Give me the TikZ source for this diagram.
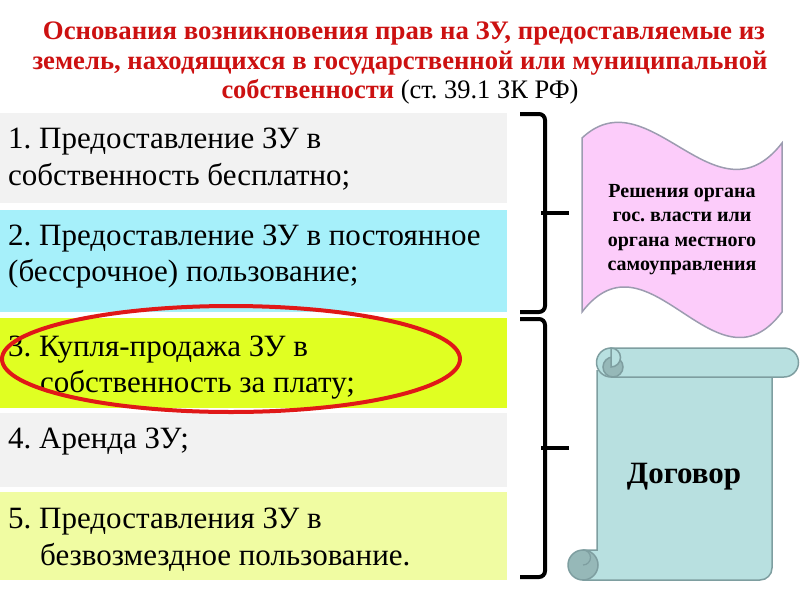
\documentclass[tikz,border=0pt]{standalone}
\usepackage{fontspec}
\setmainfont{Liberation Serif}
\usepackage{graphicx}
\frenchspacing
\definecolor{titlered}{HTML}{CC1111}
\definecolor{ringred}{HTML}{E01818}
\definecolor{boxgray}{HTML}{F2F2F2}
\definecolor{boxcyan}{HTML}{A6F0FA}
\definecolor{boxlime}{HTML}{E0FF22}
\definecolor{boxpale}{HTML}{F0FCA2}
\definecolor{flagpink}{HTML}{FCCCFA}
\definecolor{flagedge}{HTML}{9C9CB0}
\definecolor{scrollfill}{HTML}{B8E0E0}
\definecolor{scrolldark}{HTML}{96B8B8}
\definecolor{scrolledge}{HTML}{7E9EA0}
\begin{document}
\frenchspacing
\begin{tikzpicture}[x=1pt,y=-1pt,
  bandbox/.style={rectangle,draw=none,minimum width=507pt,inner sep=0pt,outer sep=0pt,anchor=north west},
  btext/.style={anchor=base west,inner sep=0pt,font=\fontsize{31}{36}\selectfont},
  ttext/.style={anchor=base,inner sep=0pt,font=\fontsize{26.7}{30}\selectfont\bfseries,text=titlered},
  ftext/.style={anchor=base,inner sep=0pt,font=\fontsize{20}{24}\selectfont\bfseries},
  bracestyle/.style={line width=4pt,rounded corners=6pt,line cap=butt},
  tipstyle/.style={line width=4pt},
  scrollline/.style={draw=scrolledge,line width=1.5pt}]
\useasboundingbox (0,0) rectangle (800,600);

% title
\node[ttext] (t1) at (404,39) {\resizebox{722pt}{\height}{Основания возникновения прав на ЗУ, предоставляемые из}};
\node[ttext] (t2) at (400,69) {\resizebox{735pt}{\height}{земель, находящихся в государственной или муниципальной}};
\node[ttext] (t3) at (400,98) {\resizebox{357pt}{\height}{собственности {\mdseries\color{black}(ст. 39.1 ЗК РФ)}}};

% bands
\node[bandbox,fill=boxgray,minimum height=90pt] (b1) at (0,113) {};
\node[bandbox,fill=boxcyan,minimum height=102pt] (b2) at (0,210) {};
\node[bandbox,fill=boxlime,minimum height=90pt] (b3) at (0,318) {};
\node[bandbox,fill=boxgray,minimum height=74pt] (b4) at (0,413) {};
\node[bandbox,fill=boxpale,minimum height=88pt] (b5) at (0,492) {};

% band texts
\node[btext] (l1a) at (8,148) {1. Предоставление ЗУ в};
\node[btext] (l1b) at (8,185) {собственность бесплатно;};
\node[btext] (l2a) at (8,245) {2. Предоставление ЗУ в постоянное};
\node[btext] (l2b) at (8,281) {(бессрочное) пользование;};
\node[btext] (l3a) at (8,356) {3. Купля-продажа ЗУ в};
\node[btext] (l3b) at (40,392) {собственность за плату;};
\node[btext] (l4a) at (8,448) {4. Аренда ЗУ;};
\node[btext] (l5a) at (8,528) {5. Предоставления ЗУ в};
\node[btext] (l5b) at (40,565) {безвозмездное пользование.};

% red ring
\draw[ringred,line width=4pt] (231,359) ellipse [x radius=229pt, y radius=53pt];

% braces
\coordinate (br1t) at (520,114);
\coordinate (br1b) at (520,312);
\coordinate (br1m) at (541,213);
\coordinate (br1p) at (569,213);
\draw[bracestyle] (br1t) -- (545,114) -- (545,312) -- (br1b);
\draw[tipstyle] (br1m) -- (br1p);
\coordinate (br2t) at (520,319);
\coordinate (br2b) at (520,577);
\coordinate (br2m) at (541,448);
\coordinate (br2p) at (569,448);
\draw[bracestyle] (br2t) -- (545,319) -- (545,577) -- (br2b);
\draw[tipstyle] (br2m) -- (br2p);

% wave flag
\draw[fill=flagpink,draw=flagedge,line width=1.5pt]
  (582,138) .. controls (649,75) and (716,228) .. (782,143)
  -- (782,312) .. controls (716,400) and (649,225) .. (582,312) -- cycle;
\node[ftext] (f1) at (682,197) {Решения органа};
\node[ftext] (f2) at (682,221) {гос. власти или};
\node[ftext] (f3) at (682,246) {органа местного};
\node[ftext] (f4) at (682,270) {самоуправления};

% scroll
\path[fill=scrollfill,scrollline]
  (597,370) -- (597,550) -- (583,550) -- (583,580) -- (760,580)
  arc[start angle=-90,end angle=0,radius=12pt] -- (772,370);
\draw[fill=scrolldark,scrollline] (583,565) circle[radius=15pt];
\draw[scrolledge,line width=1.2pt] (583,550) arc[start angle=90,end angle=-90,radius=7.5pt];
\draw[fill=scrollfill,scrollline] (611,348) -- (784,348)
  arc[start angle=90,end angle=-90,radius=14.5pt] -- (611,377)
  arc[start angle=-90,end angle=-270,radius=14.5pt];
\draw[fill=scrolldark,scrollline] (613,367) circle[radius=10pt];
\draw[fill=scrollfill,scrollline] (611,348) arc[start angle=90,end angle=-90,radius=9.5pt] -- cycle;
\node[anchor=base,inner sep=0pt,font=\fontsize{31}{36}\selectfont\bfseries] (dog) at (684,483) {Договор};
\end{tikzpicture}
\end{document}
